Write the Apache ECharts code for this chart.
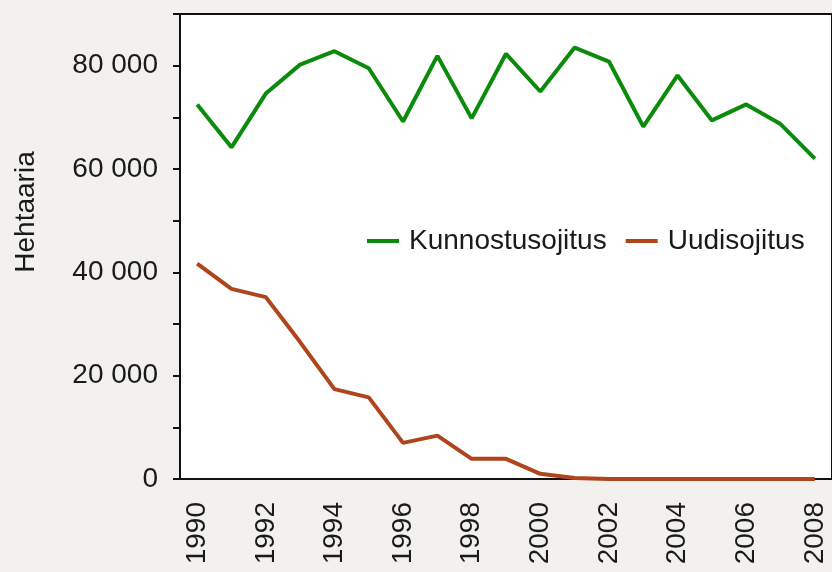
<!DOCTYPE html>
<html>
<head>
<meta charset="utf-8">
<script src="https://cdn.jsdelivr.net/npm/echarts@6/dist/echarts.min.js"></script>
<style>
  html, body { margin: 0; padding: 0; background: #f2f1ed; }
  #main { width: 832px; height: 572px; }
</style>
</head>
<body>
<div id="main"></div>
<script>
var years = ['1990','1991','1992','1993','1994','1995','1996','1997','1998','1999',
             '2000','2001','2002','2003','2004','2005','2006','2007','2008'];
var kunnostus = [72500, 64200, 74600, 80200, 82800, 79500, 69200, 81900, 69800, 82300,
                 75000, 83500, 80800, 68200, 78100, 69400, 72500, 68700, 62000];
var uudis = [41700, 36800, 35200, 26500, 17400, 15800, 7000, 8400, 3900, 3900,
             1000, 200, 0, 0, 0, 0, 0, 0, 0];

var font = 'Liberation Sans, Arial, sans-serif';
var myChart = echarts.init(document.getElementById('main'));
var option = {
  backgroundColor: '#f2f1ed',
  animation: false,
  grid: {
    left: 180, top: 14, width: 658, height: 465,
    show: true, backgroundColor: '#ffffff', borderColor: '#111', borderWidth: 2
  },
  legend: {
    left: 362, top: 222,
    icon: 'rect', itemWidth: 32, itemHeight: 4, itemGap: 19,
    textStyle: { fontFamily: font, fontSize: 28, color: '#1a1a1a', padding: [0, 0, 0, 5] },
    data: ['Kunnostusojitus', 'Uudisojitus']
  },
  graphic: [{
    type: 'text', x: 26, y: 212, rotation: Math.PI / 2,
    style: { text: 'Hehtaaria', fontFamily: font, fontSize: 28, fill: '#1a1a1a',
             textAlign: 'center', textVerticalAlign: 'middle' }
  }],
  xAxis: {
    type: 'category',
    data: years,
    boundaryGap: true,
    axisLine: { lineStyle: { color: '#111', width: 2 } },
    axisTick: { interval: 0, length: 7, lineStyle: { color: '#111', width: 2 } },
    axisLabel: { interval: 1, rotate: 90, margin: 23, fontFamily: font, fontSize: 28, color: '#1a1a1a' },
    splitLine: { show: false }
  },
  yAxis: {
    type: 'value',
    min: 0, max: 90000, interval: 10000,
    axisLine: { show: true, lineStyle: { color: '#111', width: 2 } },
    axisTick: { show: true, length: 7, lineStyle: { color: '#111', width: 2 } },
    axisLabel: {
      margin: 22, fontFamily: font, fontSize: 28, color: '#1a1a1a',
      formatter: function (v) {
        if (v % 20000 !== 0) return '';
        return v === 0 ? '0' : (v / 1000) + ' 000';
      }
    },
    splitLine: { show: false }
  },
  series: [
    {
      name: 'Kunnostusojitus', type: 'line', data: kunnostus,
      symbol: 'none', lineStyle: { color: '#0b8a0b', width: 4 }, itemStyle: { color: '#0b8a0b' }
    },
    {
      name: 'Uudisojitus', type: 'line', data: uudis,
      symbol: 'none', lineStyle: { color: '#b0451c', width: 4 }, itemStyle: { color: '#b0451c' }
    }
  ]
};
myChart.setOption(option);
</script>
</body>
</html>
